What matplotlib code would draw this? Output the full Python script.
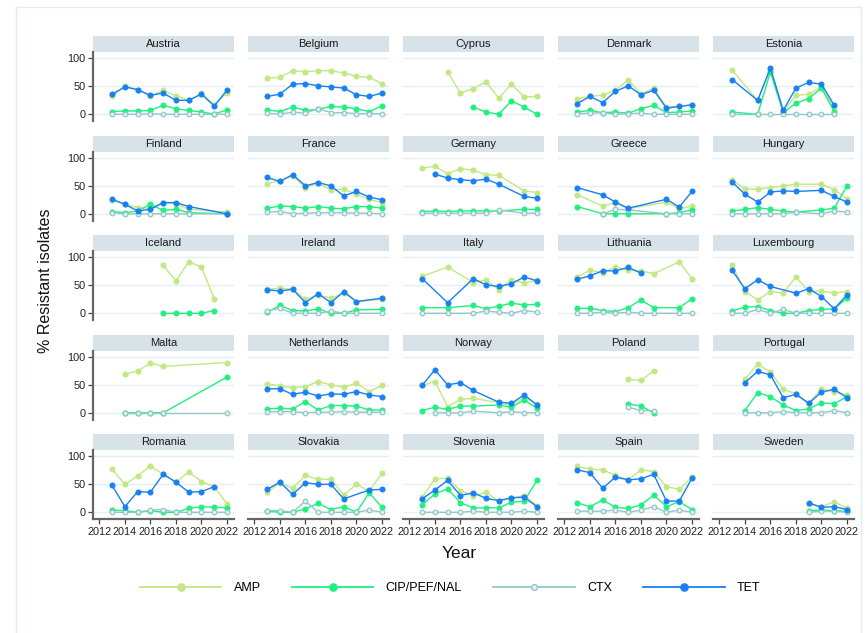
import numpy as np
import matplotlib
matplotlib.use("Agg")
import matplotlib.pyplot as plt
from matplotlib.lines import Line2D

plt.rcParams['font.family'] = ['Liberation Sans', 'DejaVu Sans']

N = np.nan
years = [2013, 2014, 2015, 2016, 2017, 2018, 2019, 2020, 2021, 2022]
xticks = [2012, 2014, 2016, 2018, 2020, 2022]
yticks = [0, 50, 100]
series = ["AMP", "CIP/PEF/NAL", "CTX", "TET"]

countries = ["Austria", "Belgium", "Cyprus", "Denmark", "Estonia",
             "Finland", "France", "Germany", "Greece", "Hungary",
             "Iceland", "Ireland", "Italy", "Lithuania", "Luxembourg",
             "Malta", "Netherlands", "Norway", "Poland", "Portugal",
             "Romania", "Slovakia", "Slovenia", "Spain", "Sweden"]

AMP = [
    [32, 51, 44, 32, 43, 33, 25, 38, 17, 38],   # Austria
    [65, 66, 78, 76, 78, 78, 74, 68, 66, 55],   # Belgium
    [N, N, 76, 38, 46, 58, 29, 54, 31, 32],     # Cyprus
    [28, 32, 34, 43, 62, 36, 47, 13, 14, 17],   # Denmark
    [79, N, 25, 80, 5, 34, 36, 49, 10, N],      # Estonia
    [25, 17, 11, 10, 20, 18, 8, N, N, 3],       # Finland
    [54, 59, 68, 47, 55, 43, 44, 35, 26, 20],   # France
    [82, 85, 72, 81, 78, 70, 69, N, 41, 38],    # Germany
    [34, N, 14, 20, 9, N, N, 21, 9, 14],        # Greece
    [60, 45, 44, 47, 50, 53, N, 53, 43, 27],    # Hungary
    [N, N, N, N, 86, 58, 92, 83, 26, N],        # Iceland
    [43, 45, 43, 25, 33, 27, 36, 21, N, 25],    # Ireland
    [66, N, 83, N, 55, 60, 42, 60, 54, 59],     # Italy
    [65, 77, 73, 83, 77, 76, 71, N, 92, 62],    # Lithuania
    [87, 39, 24, 39, 36, 65, 39, 40, 36, 39],   # Luxembourg
    [N, 69, 75, 89, 83, N, N, N, N, 90],        # Malta
    [52, 48, 45, 47, 56, 50, 46, 53, 38, 49],   # Netherlands
    [49, 56, 11, 24, 26, N, 18, 13, 28, 16],    # Norway
    [N, N, N, N, 60, 58, 75, N, N, N],          # Poland
    [N, 60, 87, 73, 42, 34, 18, 42, 38, 32],    # Portugal
    [77, 50, 65, 83, 68, 54, 72, 55, 46, 15],   # Romania
    [36, 53, 43, 66, 59, 59, 31, 50, 38, 70],   # Slovakia
    [27, 60, 61, 39, 29, 36, 20, 25, 30, 12],   # Slovenia
    [82, 77, 76, 66, 58, 76, 73, 46, 41, 63],   # Spain
    [N, N, N, N, N, N, 14, 10, 19, 7],          # Sweden
]

CIP = [
    [5, 6, 6, 7, 16, 10, 7, 4, 0.5, 8],
    [8, 5, 13, 7, 9, 14, 13, 10, 5, 15],
    [N, N, N, N, 13, 4, 0, 24, 13, 0],
    [4, 7, 3, 4, 2, 10, 16, 3, 4, 6],
    [4, N, 0, 76, 3, 20, 28, 47, 5, N],
    [4, 2, 5, 17, 6, 8, 2, N, N, 0],
    [10, 14, 13, 10, 13, 10, 9, 13, 13, 10],
    [4, 5, 4, 5, 5, 5, 5, N, 8, 8],
    [13, N, 0, 0, 0, N, N, 0, 2, 7],
    [5, 8, 11, 8, 5, 3, N, 7, 10, 50],
    [N, N, N, N, 0, 0, 0, 0, 5, N],
    [2, 14, 5, 4, 8, 0, 0, 6, N, 7],
    [10, N, 10, N, 14, 8, 13, 18, 15, 16],
    [9, 9, 5, 3, 10, 24, 10, N, 10, 26],
    [4, 11, 12, 5, 0, 0, 5, 7, 8, 27],
    [N, 0, 0, 0, 0, N, N, N, N, 64],
    [7, 8, 7, 20, 5, 13, 13, 12, 5, 5],
    [4, 10, 6, 12, 12, N, 14, 10, 23, 8],
    [N, N, N, N, 16, 12, 0, N, N, N],
    [N, 4, 36, 29, 14, 4, 7, 18, 16, 29],
    [4, 3, 0, 3, 0, 0, 7, 10, 9, 8],
    [2, 0, 0, 6, 16, 5, 10, 0, 35, 9],
    [13, 33, 42, 17, 8, 8, 8, 18, 20, 57],
    [17, 10, 22, 9, 7, 13, 31, 10, 19, 5],
    [N, N, N, N, N, N, 3, 4, 3, 2],
]

CTX = [
    [0, 0, 0, 1, 0, 0, 0, 0, 0, 0],
    [2, 0, 4, 2, 10, 3, 3, 1, 1, 1],
    [N, N, N, N, N, N, N, N, N, N],
    [1, 2, 3, 0, 1, 2, 0, 0, 0, 0],
    [0, N, 0, 0, 0, 0, 0, 0, 0, N],
    [2, 0, 0, 0, 0, 0, 0, N, N, 0],
    [3, 4, 0, 1, 2, 2, 2, 1, 1, 0],
    [1, 1, 1, 1, 1, 1, 7, N, 1, 1],
    [N, N, 0, 8, 7, N, N, 0, 0, 0],
    [0, 0, 0, 0, 0, 3, N, 0, 5, 3],
    [N, N, N, N, N, N, N, N, N, N],
    [4, 9, 0, 0, 0, 4, 0, 0, N, 0],
    [0, N, 0, N, 0, 4, 2, 0, 5, 2],
    [0, 0, 2, 0, 2, 0, 0, N, 0, 0],
    [0, 0, 7, 0, 7, 0, 0, 0, 0, 0],
    [N, 0, 0, 0, 0, N, N, N, N, 0],
    [2, 2, 2, 0, 1, 1, 2, 1, 1, 1],
    [N, 0, 0, 0, 3, N, 0, 2, 0, 0],
    [N, N, N, N, 10, 4, 4, N, N, N],
    [N, 0, 0, 0, 2, 0, 0, 0, 4, 0],
    [0, 0, 0, 4, 5, 0, 0, 0, 0, 0],
    [3, 3, 0, 20, 0, 0, 0, 0, 4, 0],
    [0, 0, 0, 0, 2, 0, 0, 0, 2, 0],
    [2, 2, 2, 4, 0, 4, 10, 0, 4, 0],
    [N, N, N, N, N, N, 0, 2, 2, 0],
]

TET = [
    [36, 49, 44, 34, 38, 25, 25, 36, 15, 43],
    [32, 36, 54, 55, 51, 49, 47, 35, 32, 38],
    [N, N, N, N, N, N, N, N, N, N],
    [19, 32, 21, 41, 51, 35, 43, 11, 14, 17],
    [62, N, 25, 83, 7, 47, 57, 54, 16, N],
    [26, 17, 5, 8, 20, 20, 13, N, N, 0],
    [65, 58, 70, 50, 56, 50, 32, 40, 30, 25],
    [N, 71, 64, 61, 59, 62, 53, N, 31, 28],
    [47, N, 34, 21, 10, N, N, 26, 12, 40],
    [57, 35, 21, 39, 41, 40, N, 42, 31, 21],
    [N, N, N, N, N, N, N, N, N, N],
    [42, 40, 43, 19, 35, 19, 39, 21, N, 27],
    [62, N, 19, N, 62, 51, 48, 53, 65, 58],
    [61, 67, 76, 76, 82, 72, N, N, N, N],
    [77, 44, 60, 48, N, 36, 44, 30, 8, 33],
    [N, N, N, N, N, N, N, N, N, N],
    [43, 43, 33, 37, 30, 34, 33, 38, 32, 29],
    [49, 77, 50, 54, 40, N, 19, 17, 32, 14],
    [N, N, N, N, N, N, N, N, N, N],
    [N, 54, 74, 68, 27, 33, 17, 37, 42, 27],
    [48, 10, 37, 36, 68, 54, 36, 37, 46, N],
    [41, 54, 32, 53, 50, 50, 24, N, 40, 41],
    [24, 40, 57, 30, 35, 25, 21, 26, 27, 10],
    [76, 71, 43, 63, 58, 60, 68, 20, 20, 61],
    [N, N, N, N, N, N, 17, 9, 10, 5],
]

colors = {"AMP": "#c2e884", "CIP/PEF/NAL": "#1ff07f",
          "CTX": "#93c8c8", "TET": "#1780f4"}
data = {"AMP": AMP, "CIP/PEF/NAL": CIP, "CTX": CTX, "TET": TET}

W, H = 868, 633
fig = plt.figure(figsize=(W / 100, H / 100), dpi=100)

# outer frame
frame_col = "#e2ebf0"
fig.add_artist(Line2D([16 / W, 16 / W], [0, 1 - 7 / H], transform=fig.transFigure, color=frame_col, lw=1))
fig.add_artist(Line2D([16 / W, 861 / W], [1 - 7 / H, 1 - 7 / H], transform=fig.transFigure, color=frame_col, lw=1))
fig.add_artist(Line2D([861 / W, 861 / W], [0, 1 - 7 / H], transform=fig.transFigure, color=frame_col, lw=1))


def fbox(x0, y0, w, h):
    return [x0 / W, 1 - (y0 + h) / H, w / W, h / H]


ncol = 5
for i, c in enumerate(countries):
    r, col = divmod(i, ncol)
    left = 93 + 155 * col
    strip_top = 36 + 99.5 * r
    # strip
    sax = fig.add_axes(fbox(left, strip_top, 141, 16))
    sax.set_facecolor("#d8e3e9")
    sax.set_xticks([]); sax.set_yticks([])
    for s in sax.spines.values():
        s.set_visible(False)
    sax.text(0.5, 0.47, c, ha="center", va="center", fontsize=8, color="#1a1a1a",
             transform=sax.transAxes)

    ax = fig.add_axes(fbox(left, strip_top + 16, 141, 69))
    ax.set_xlim(2011.5, 2022.55)
    ax.set_ylim(-12, 111.5)
    for yv in yticks:
        ax.axhline(yv, color="#e6eff3", lw=1.0, zorder=0)
    for s in ax.spines.values():
        s.set_visible(False)
    ax.set_facecolor("none")

    for sname in series:
        yv = np.array(data[sname][i], dtype=float)
        xv = np.array(years, dtype=float)
        m = ~np.isnan(yv)
        if not m.any():
            continue
        if sname == "CTX":
            ax.plot(xv[m], yv[m], color=colors[sname], lw=1.0, marker="o", ms=3.3,
                    mfc="#e4f2f2", mec=colors[sname], mew=0.9, zorder=3)
        else:
            ax.plot(xv[m], yv[m], color=colors[sname], lw=1.0, marker="o", ms=3.8,
                    mfc=colors[sname], mec=colors[sname], mew=0.5,
                    zorder=4 if sname == "TET" else 2)

    if col == 0:
        ax.spines["left"].set_visible(True)
        ax.spines["left"].set_color("#666666")
        ax.spines["left"].set_linewidth(1.6)
        ax.set_yticks(yticks)
        ax.tick_params(axis="y", length=3.5, width=0.9, color="#444444",
                       labelsize=7.8, pad=2, labelcolor="#222222")
    else:
        ax.set_yticks([])
    if r == 4:
        ax.spines["bottom"].set_visible(True)
        ax.spines["bottom"].set_color("#666666")
        ax.spines["bottom"].set_linewidth(1.6)
        ax.set_xticks(xticks)
        ax.set_xticklabels([str(x) for x in xticks])
        ax.tick_params(axis="x", length=3.5, width=0.9, color="#444444",
                       labelsize=7.8, pad=2, labelcolor="#222222")
    else:
        ax.set_xticks([])

fig.text(459 / W, 1 - 553 / H, "Year", ha="center", va="center", fontsize=12.5, color="#111111")
fig.text(46 / W, 1 - 281 / H, "% Resistant isolates", ha="center", va="center",
         rotation=90, fontsize=11.5, color="#111111")

handles = []
for sname in series:
    if sname == "CTX":
        h = Line2D([], [], color=colors[sname], lw=1.3, marker="o", ms=4.2,
                   mfc="#e4f2f2", mec=colors[sname], mew=1.0)
    else:
        h = Line2D([], [], color=colors[sname], lw=1.3, marker="o", ms=5.2,
                   mfc=colors[sname], mec=colors[sname])
    handles.append(h)
fig.legend(handles, series, loc="center left", bbox_to_anchor=(140 / W, 1 - 588 / H),
           ncol=4, frameon=False, fontsize=9, handlelength=6.5, handletextpad=1.0,
           columnspacing=2.5, borderpad=0, borderaxespad=0, numpoints=1)

fig.savefig("out.png", dpi=100)
